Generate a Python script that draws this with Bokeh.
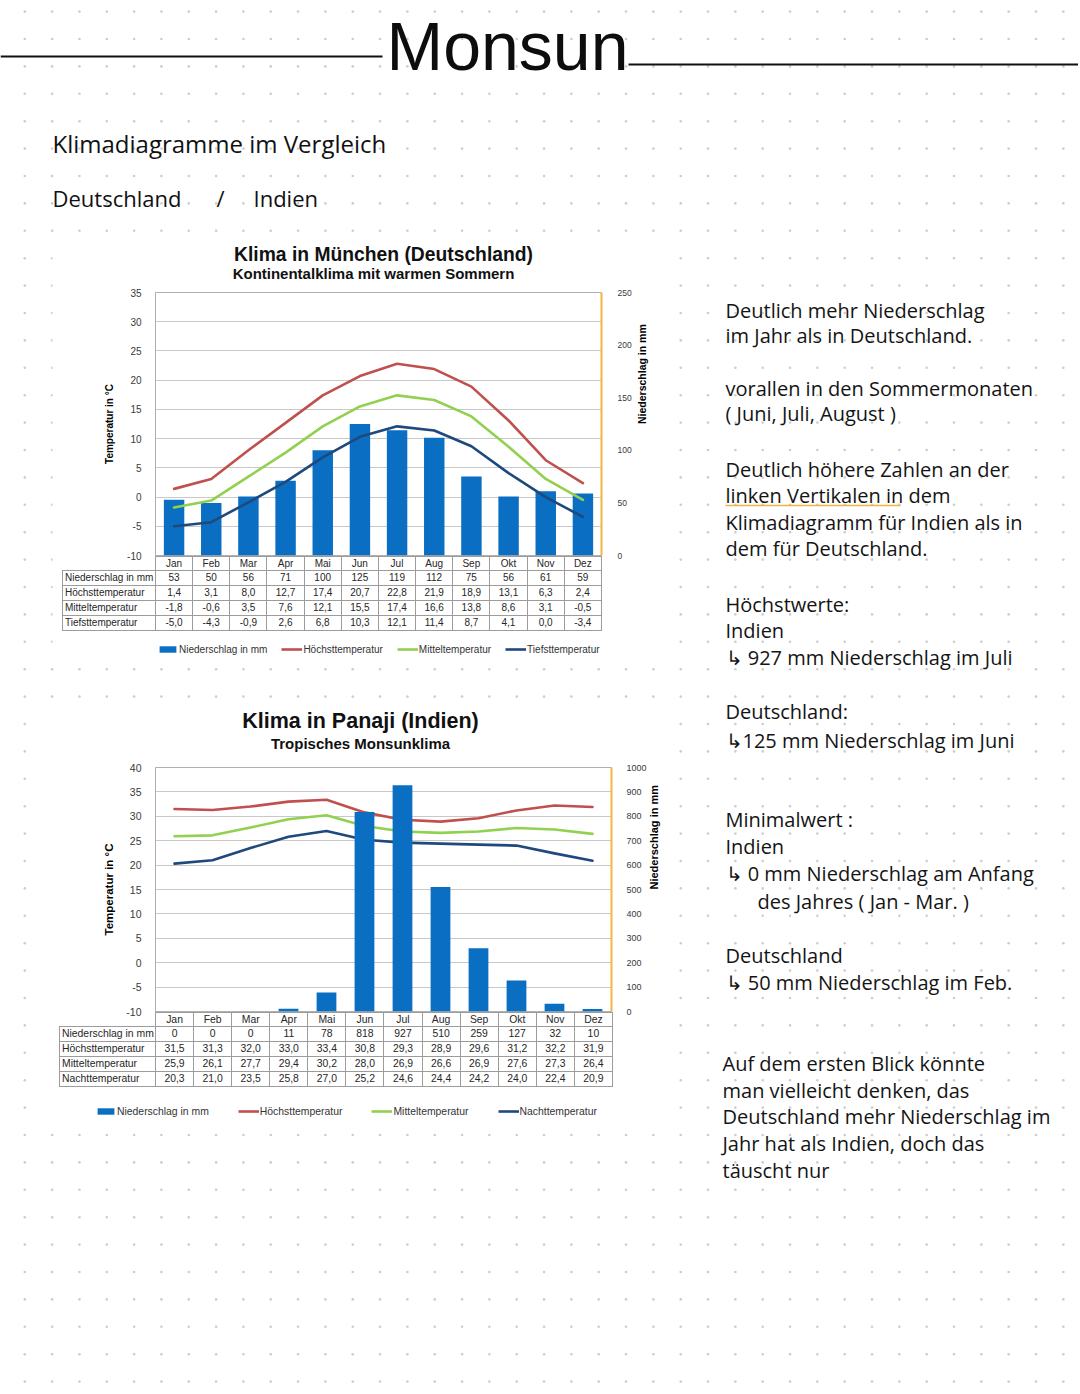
import math
import numpy as np
from bokeh.plotting import figure
from bokeh.layouts import column
from bokeh.models import (Range1d, FactorRange, LinearAxis, FixedTicker, Legend, LegendItem,
                          Div, GridBox, ColumnDataSource)
from bokeh.core.properties import value
from bokeh.embed import file_html
from bokeh.resources import INLINE

# ---------------- data ----------------
months = ["Jan", "Feb", "Mar", "Apr", "Mai", "Jun", "Jul", "Aug", "Sep", "Okt", "Nov", "Dez"]

# München (Deutschland)
prec_de = [53, 50, 56, 71, 100, 125, 119, 112, 75, 56, 61, 59]
tmax_de = [1.4, 3.1, 8.0, 12.7, 17.4, 20.7, 22.8, 21.9, 18.9, 13.1, 6.3, 2.4]
tmean_de = [-1.8, -0.6, 3.5, 7.6, 12.1, 15.5, 17.4, 16.6, 13.8, 8.6, 3.1, -0.5]
tmin_de = [-5.0, -4.3, -0.9, 2.6, 6.8, 10.3, 12.1, 11.4, 8.7, 4.1, 0.0, -3.4]

# Panaji (Indien)
prec_in = [0, 0, 0, 11, 78, 818, 927, 510, 259, 127, 32, 10]
tmax_in = [31.5, 31.3, 32.0, 33.0, 33.4, 30.8, 29.3, 28.9, 29.6, 31.2, 32.2, 31.9]
tmean_in = [25.9, 26.1, 27.7, 29.4, 30.2, 28.0, 26.9, 26.6, 26.9, 27.6, 27.3, 26.4]
tnight_in = [20.3, 21.0, 23.5, 25.8, 27.0, 25.2, 24.6, 24.4, 24.2, 24.0, 22.4, 20.9]

temp_ticks_de = [-10, -5, 0, 5, 10, 15, 20, 25, 30, 35]
prec_ticks_de = [0, 50, 100, 150, 200, 250]
temp_ticks_in = [-10, -5, 0, 5, 10, 15, 20, 25, 30, 35, 40]
prec_ticks_in = [0, 100, 200, 300, 400, 500, 600, 700, 800, 900, 1000]

# ---------------- styles ----------------
BAR = "#0a6fc2"
RED = "#c0504d"
GREEN = "#92d050"
NAVY = "#1f497d"
ORANGE = "#f2b641"
CF = "Liberation Sans"
HAND = "Open Sans"


def mg(x, y):
    return (int(round(y)), 0, 0, int(round(x)))


def fmt(v):
    return f"{v:.1f}".replace(".", ",")


def make_chart(cfg, prec, tmax, tmean, tlow, t_ticks, p_ticks):
    mb_l = cfg["frame_l"] - cfg["left"]
    mb_t = cfg["frame_t"] - cfg["top"]
    W = mb_l + cfg["frame_w"] + cfg["right_b"]
    H = mb_t + cfg["frame_h"] + cfg["bottom_b"]
    p = figure(width=W, height=H, x_range=FactorRange(factors=months),
               y_range=Range1d(t_ticks[0], t_ticks[-1]),
               x_axis_location=None, output_backend="svg", toolbar_location=None,
               min_border_left=mb_l, min_border_right=cfg["right_b"],
               min_border_top=mb_t, min_border_bottom=cfg["bottom_b"],
               background_fill_color="white", border_fill_color="white",
               outline_line_color="#b0b0b0", margin=mg(cfg["left"], cfg["top"]), align="start")
    p.extra_y_ranges = {"prec": Range1d(p_ticks[0], p_ticks[-1])}
    src = ColumnDataSource(dict(month=months, prec=prec, tmax=tmax, tmean=tmean, tlow=tlow))

    ya = p.yaxis[0]
    ya.ticker = FixedTicker(ticks=t_ticks)
    ya.major_label_overrides = {t: str(t) for t in t_ticks}
    ya.axis_label = "Temperatur in °C"
    ya.axis_label_text_font = CF
    ya.axis_label_text_font_style = "bold"
    ya.axis_label_text_font_size = cfg["ltitle"]
    ya.axis_label_text_color = "black"
    ya.axis_label_standoff = cfg["lstand"]
    ya.major_label_text_font = CF
    ya.major_label_text_font_size = cfg["ltick"]
    ya.major_label_text_color = "#3a3a3a"
    ya.major_label_standoff = 8
    ya.major_tick_line_color = None
    ya.minor_tick_line_color = None
    ya.axis_line_color = "#b0b0b0"
    p.ygrid[0].ticker = FixedTicker(ticks=t_ticks)
    p.ygrid.grid_line_color = "#c8c8c8"
    p.xgrid.visible = False

    ra = LinearAxis(y_range_name="prec", ticker=FixedTicker(ticks=p_ticks))
    ra.axis_label = "Niederschlag in mm"
    ra.axis_label_text_font = CF
    ra.axis_label_text_font_style = "bold"
    ra.axis_label_text_font_size = cfg["rtitle"]
    ra.axis_label_text_color = "black"
    ra.axis_label_standoff = cfg["rstand"]
    ra.major_label_text_font = CF
    ra.major_label_text_font_size = cfg["rtick"]
    ra.major_label_text_color = "#3a3a3a"
    ra.major_label_standoff = cfg["rlabstand"]
    ra.major_tick_line_color = None
    ra.minor_tick_line_color = None
    ra.axis_line_color = ORANGE
    ra.axis_line_width = 2
    try:
        ra.axis_label_orientation = math.pi / 2
    except Exception:
        pass
    p.add_layout(ra, "right")

    def draw_bars():
        p.vbar(x="month", top="prec", bottom=0, width=cfg["barw"], source=src,
               y_range_name="prec", fill_color=BAR, line_color=None)

    def draw_lines():
        for col, c in (("tmax", RED), ("tmean", GREEN), ("tlow", NAVY)):
            p.line(x="month", y=col, source=src, line_color=c, line_width=2.6,
                   line_join="round", line_cap="round")

    if cfg["bars_on_top"]:
        draw_lines()
        draw_bars()
    else:
        draw_bars()
        draw_lines()
    return p, src


def legend_fig(src, left, top, width, low_name, fs, spacing):
    # legend strip: the series are bound here too, but its y-range lies far outside the data,
    # so only the legend itself is visible
    lf = figure(width=width, height=14, x_range=FactorRange(factors=months), y_range=Range1d(5000, 5001),
                x_axis_type=None, y_axis_type=None, output_backend="svg", toolbar_location=None,
                min_border=0, outline_line_color=None, background_fill_alpha=0,
                border_fill_alpha=0, margin=mg(left, top), align="start")
    lf.grid.visible = False
    b = lf.vbar(x="month", top="prec", bottom=0, width=0.5, source=src, fill_color=BAR, line_color=None)
    rs = [lf.line(x="month", y=col, source=src, line_color=c, line_width=2.6)
          for col, c in (("tmax", RED), ("tmean", GREEN), ("tlow", NAVY))]
    items = [LegendItem(label="Niederschlag in mm", renderers=[b]),
             LegendItem(label="Höchsttemperatur", renderers=[rs[0]]),
             LegendItem(label="Mitteltemperatur", renderers=[rs[1]]),
             LegendItem(label=low_name, renderers=[rs[2]])]
    leg = Legend(items=items, orientation="horizontal", location="top_left",
                 label_text_font=CF, label_text_font_size=fs, label_text_color="#333333",
                 glyph_width=21, glyph_height=8, label_standoff=1, label_height=12,
                 spacing=spacing, padding=0, margin=0,
                 border_line_color=None, background_fill_alpha=0)
    lf.add_layout(leg)
    return lf


def table_div(rows, left, top, label_w, col_w, fs):
    bd = "1px solid #9c9c9c"
    total = label_w + 12 * col_w
    base = f"font-family:'Liberation Sans',Arial,sans-serif;font-size:{fs}px;color:#262626;"
    cell = f"border:{bd};padding:0;text-align:center;white-space:nowrap;overflow:hidden;"
    html = (f'<table style="border-collapse:collapse;table-layout:fixed;width:{total:.2f}px;{base}">'
            + "<colgroup>" + f'<col style="width:{label_w}px">'
            + "".join(f'<col style="width:{col_w:.3f}px">' for _ in months) + "</colgroup>")
    html += ('<tr><td style="border:none;padding:0;height:13px"></td>'
             + "".join(f'<td style="{cell}height:13px;line-height:13px">{m}</td>' for m in months) + "</tr>")
    for label, vals in rows:
        html += (f'<tr><td style="{cell}height:14px;line-height:14px;text-align:left;padding-left:2px">{label}</td>'
                 + "".join(f'<td style="{cell}height:14px;line-height:14px">{v}</td>' for v in vals) + "</tr>")
    html += "</table>"
    return Div(text=html, width=int(total) + 4, height=78, margin=mg(left, top), align="start")


# ---------------- chart 1: München ----------------
cfg1 = dict(left=55, top=287, frame_l=155, frame_t=292, frame_w=446, frame_h=263,
            right_b=67, bottom_b=6, ltitle="10px", rtitle="10.5px", ltick="10px", rtick="8.5px",
            lstand=9, rstand=7, rlabstand=10, barw=0.55, bars_on_top=False)
c1, src1 = make_chart(cfg1, prec_de, tmax_de, tmean_de, tmin_de, temp_ticks_de, prec_ticks_de)
rows1 = [("Niederschlag in mm", [str(v) for v in prec_de]),
         ("Höchsttemperatur", [fmt(v) for v in tmax_de]),
         ("Mitteltemperatur", [fmt(v) for v in tmean_de]),
         ("Tiefsttemperatur", [fmt(v) for v in tmin_de])]
t1 = table_div(rows1, 62, 556, 93, 446 / 12, 10)
l1 = legend_fig(src1, 157, 643, 470, "Tiefsttemperatur", "10px", 14)

# ---------------- chart 2: Panaji ----------------
cfg2 = dict(left=55, top=760, frame_l=155, frame_t=767, frame_w=457, frame_h=244,
            right_b=56, bottom_b=6, ltitle="11.5px", rtitle="11px", ltick="10.5px", rtick="9px",
            lstand=8, rstand=4, rlabstand=9, barw=0.52, bars_on_top=True)
c2, src2 = make_chart(cfg2, prec_in, tmax_in, tmean_in, tnight_in, temp_ticks_in, prec_ticks_in)
rows2 = [("Niederschlag in mm", [str(v) for v in prec_in]),
         ("Höchsttemperatur", [fmt(v) for v in tmax_in]),
         ("Mitteltemperatur", [fmt(v) for v in tmean_in]),
         ("Nachttemperatur", [fmt(v) for v in tnight_in])]
t2 = table_div(rows2, 59, 1012, 96, 457 / 12, 10.4)
l2 = legend_fig(src2, 95, 1105, 530, "Nachttemperatur", "10.4px", 29)

# ---------------- background page (dot paper, headings, notes) ----------------
BW, BH = 1078, 1390
bg = figure(width=BW, height=BH, x_range=Range1d(0, BW), y_range=Range1d(BH, 0),
            x_axis_type=None, y_axis_type=None, output_backend="svg", toolbar_location=None,
            min_border=0, outline_line_color=None, background_fill_color="white",
            border_fill_color="white", margin=(0, 0, 0, 0), align="start")
bg.grid.visible = False

gx = np.arange(24.3, BW, 27.33)
gy = np.arange(11.1, BH, 27.4)
GX, GY = np.meshgrid(gx, gy)
bg.scatter(GX.ravel(), GY.ravel(), size=2.6, marker="circle", fill_color="#cdcdcd", line_color=None)

# white pasted chart images
bg.quad(left=[52, 50], right=[668, 668], top=[236, 700], bottom=[665, 1126],
        fill_color="white", line_color=None)

# header
bg.segment(x0=[0, 628], y0=[56, 64], x1=[382, BW], y1=[56, 64], line_color="#111111", line_width=2.2)
bg.text(x=[507], y=[45], text=["Monsun"], text_font=value("Liberation Sans"),
        text_font_size="68px", text_align="center", text_baseline="middle", text_color="#0d0d0d")
bg.text(x=[52], y=[143], text=["Klimadiagramme im Vergleich"], text_font=value(HAND),
        text_font_size="24px", text_align="left", text_baseline="middle", text_color="#111111")
bg.text(x=[52, 216, 253], y=[197, 197, 197], text=["Deutschland", "/", "Indien"], text_font=value(HAND),
        text_font_size="22px", text_align="left", text_baseline="middle", text_color="#111111")

# chart titles
bg.text(x=[383], y=[254], text=["Klima in München (Deutschland)"], text_font=value(CF),
        text_font_style="bold", text_font_size="19.3px", text_align="center", text_baseline="middle",
        text_color="#111111")
bg.text(x=[373], y=[273], text=["Kontinentalklima mit warmen Sommern"], text_font=value(CF),
        text_font_style="bold", text_font_size="15px", text_align="center", text_baseline="middle",
        text_color="#111111")
bg.text(x=[360], y=[720], text=["Klima in Panaji (Indien)"], text_font=value(CF),
        text_font_style="bold", text_font_size="21.5px", text_align="center", text_baseline="middle",
        text_color="#111111")
bg.text(x=[360], y=[743], text=["Tropisches Monsunklima"], text_font=value(CF),
        text_font_style="bold", text_font_size="15px", text_align="center", text_baseline="middle",
        text_color="#111111")

# handwritten notes
notes = [
    (725, 310, "Deutlich mehr Niederschlag"),
    (725, 335, "im Jahr als in Deutschland."),
    (725, 388, "vorallen in den Sommermonaten"),
    (725, 413, "( Juni, Juli, August )"),
    (725, 469, "Deutlich höhere Zahlen an der"),
    (725, 495, "linken Vertikalen in dem"),
    (725, 522, "Klimadiagramm für Indien als in"),
    (725, 548, "dem für Deutschland."),
    (725, 604, "Höchstwerte:"),
    (725, 630, "Indien"),
    (725, 657, "↳ 927 mm Niederschlag im Juli"),
    (725, 711, "Deutschland:"),
    (725, 740, "↳125 mm Niederschlag im Juni"),
    (725, 819, "Minimalwert :"),
    (725, 846, "Indien"),
    (725, 873, "↳ 0 mm Niederschlag am Anfang"),
    (757, 901, "des Jahres ( Jan - Mar. )"),
    (725, 955, "Deutschland"),
    (725, 982, "↳ 50 mm Niederschlag im Feb."),
    (722, 1063, "Auf dem ersten Blick könnte"),
    (722, 1090, "man vielleicht denken, das"),
    (722, 1116, "Deutschland mehr Niederschlag im"),
    (722, 1143, "Jahr hat als Indien, doch das"),
    (722, 1170, "täuscht nur"),
]
bg.text(x=[n[0] for n in notes], y=[n[1] for n in notes], text=[n[2] for n in notes],
        text_font=value(HAND), text_font_size="20px", text_align="left", text_baseline="middle",
        text_color="#141414")
bg.segment(x0=[725], y0=[505], x1=[900], y1=[505], line_color="#f0b43c", line_width=1.6)

kids = [bg, c1, t1, l1, c2, t2, l2]
root = GridBox(children=[(column(k, margin=(0, 0, 0, 0)), 0, 0) for k in kids])

open("out.html", "w", encoding="utf-8").write(file_html(root, INLINE, title="Monsun"))
